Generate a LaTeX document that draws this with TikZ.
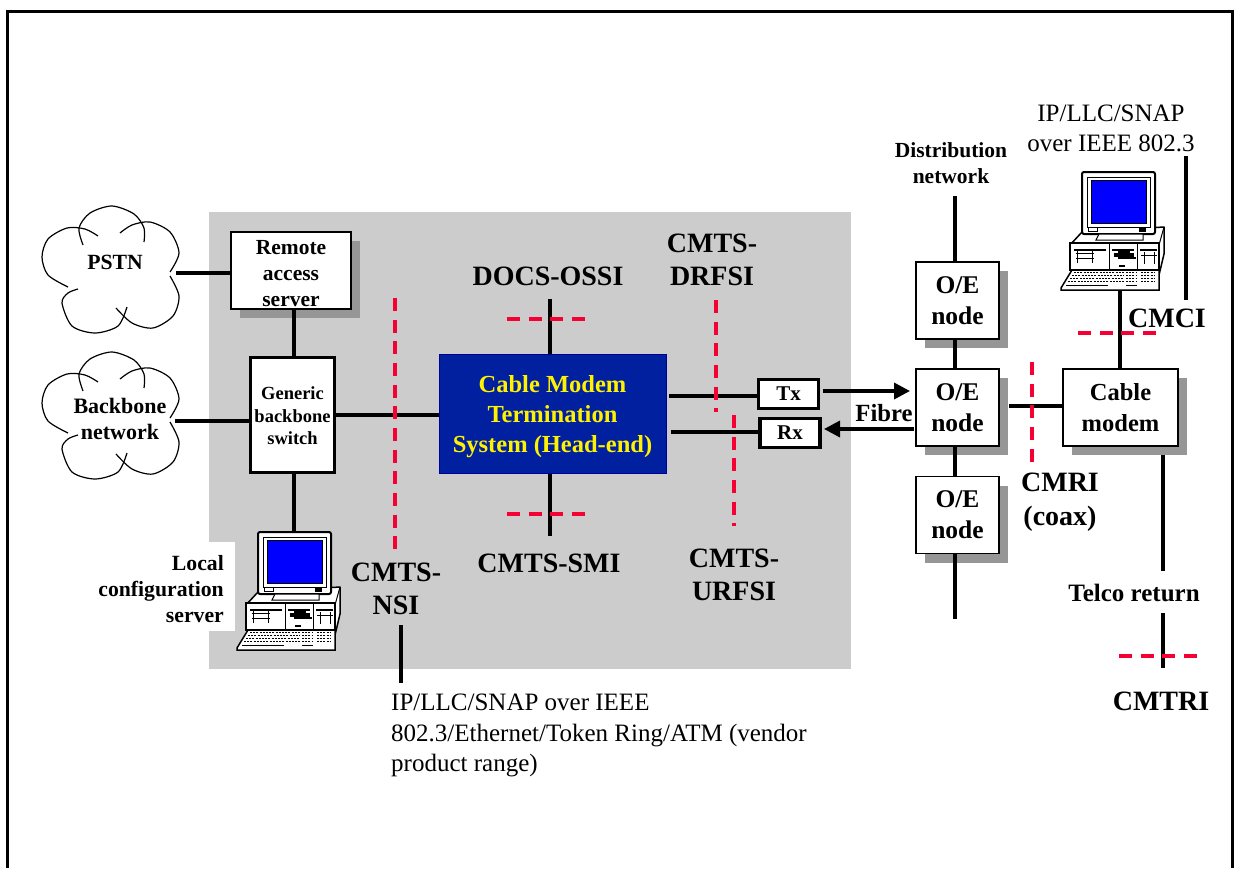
\documentclass[tikz,border=0pt]{standalone}
\usepackage{fontspec}
\setmainfont{Liberation Serif}
\usetikzlibrary{shadows}
\usetikzlibrary{arrows.meta}

\definecolor{panelgray}{RGB}{204,204,204}
\definecolor{shadowgray}{RGB}{150,150,150}
\definecolor{headblue}{RGB}{0,32,159}
\definecolor{ifred}{RGB}{245,0,50}
\newcommand{\lift}[1]{\rule{0pt}{#1pt}}

\tikzset{
  box/.style={draw=black,fill=white,line width=1.5pt,inner sep=0pt,align=center,
    font=\fontsize{21.5}{26}\selectfont\bfseries,
    drop shadow={shadow xshift=9pt,shadow yshift=-9pt,fill=shadowgray,opacity=1}},
  oebox/.style={box,font=\fontsize{25.5}{31}\selectfont\bfseries},
  heavybox/.style={draw=black,fill=white,line width=3.5pt,inner sep=0pt,align=center,
    font=\fontsize{21}{26}\selectfont\bfseries},
  wire/.style={line width=3.4pt},
  cut/.style={ifred,line width=4pt,dash pattern=on 13pt off 8.67pt},
  big/.style={align=center,inner sep=0pt,font=\fontsize{28}{33.5}\selectfont\bfseries},
  small/.style={align=center,inner sep=0pt,font=\fontsize{21.7}{26}\selectfont\bfseries},
  plain/.style={align=left,inner sep=0pt,font=\fontsize{25}{30.5}\selectfont}
}

\begin{document}
\begin{tikzpicture}[x=1pt,y=-1pt]
\useasboundingbox (0,0) rectangle (1234,868);

% frame
\draw[line width=3pt] (7,868) -- (7,11) -- (1232,11) -- (1232,868);

% head-end panel
\fill[panelgray] (209,212) rectangle (851,669);
\fill[white] (120,542) rectangle (235,631);

% clouds
\foreach \cy in {0,146} {
\begin{scope}[shift={(0,\cy)},line width=1.2pt]
\draw plot[smooth] coordinates {(83,245) (79,228) (90,213) (112,206) (134,214) (144,228) (144,242)};
\draw plot[smooth] coordinates {(120,233) (132,225) (150,222) (170,232) (179,253) (170,272)};
\draw plot[smooth] coordinates {(170,276) (179,296) (173,316) (153,328) (132,323) (116,308)};
\draw plot[smooth] coordinates {(127,307) (118,326) (95,333) (72,326) (62,303) (68,293) (78,289)};
\draw plot[smooth] coordinates {(68,287) (48,275) (42,257) (48,239) (67,228) (85,229) (98,236)};
\end{scope}
}
\path (115,262) node[small] (pstn) {PSTN};
\path (120,419) node[small,font=\fontsize{22}{26}\selectfont\bfseries] (backbone) {Backbone\\network};
\coordinate (pstnend) at (176,273);
\coordinate (backboneend) at (175,421);

% computers
\foreach \cx/\cy in {258/532,1082/172} {
\begin{scope}[shift={(\cx,\cy)}]
\draw[fill=white,line width=1.5pt,line join=round] (-12,73) -- (0,60) -- (82,55) -- (82,82) -- (77,103) -- (77,73) -- cycle;
\draw[line width=1pt] (77,73) -- (82,55);
\draw[fill=white,line width=1.5pt] (-12,71) rectangle (77,98);
\draw[line width=1.2pt] (-8,78) -- (24,78) (30,78) -- (52,78) (58,78) -- (75,78);
\draw[line width=1pt] (27,72) -- (27,97) (55,72) -- (55,97);
\draw[line width=.8pt] (-6,81) -- (12,81) (-6,86) -- (12,86) (-5,79) -- (-5,91) (10,79) -- (10,91);
\draw[line width=.8pt] (59,83) -- (75,83) (62,80) -- (62,92) (72,80) -- (72,92);
\fill (32,81) rectangle (52,85);
\fill (36,79) rectangle (48,87);
\fill (44,85) rectangle (54,87);
\fill (37,93) rectangle (43,95);
\draw[fill=white,line width=2pt,rounded corners=2pt] (0,0) rectangle (73,62);
\draw[line width=.8pt] (5,5) rectangle (68,55);
\fill[blue] (9,8) rectangle (64,51);
\draw[line width=1pt] (9,8) rectangle (64,51);
\draw[line width=.8pt] (6,55) rectangle (15,59);
\fill (57,55) rectangle (64,60);
\draw[fill=white,line width=1pt] (17,62) -- (14,68) -- (61,68) -- (61,62) -- cycle;
\draw[fill=white,line width=1.5pt] (-21,116) -- (-10,98) -- (77,98) -- (77,118) -- (-21,118) -- cycle;
\foreach \ky/\kx in {100.5/-8,103.5/-10,106.5/-12,109.5/-14} {
\draw[line width=1.6pt,dash pattern=on 2pt off 1.2pt] (\kx,\ky) -- (42,\ky);
\draw[line width=1.6pt,dash pattern=on 2pt off 1.2pt] (44,\ky) -- (55,\ky);
\draw[line width=1.6pt,dash pattern=on 2pt off 1.2pt] (59,\ky) -- (73,\ky);
}
\draw[line width=1pt] (-16,113) -- (26,113) (44,113) -- (55,113);
\end{scope}
}
\coordinate (localpc) at (294,532);
\coordinate (cmpc) at (1120,290);
\path (224,589) node[small,align=right,anchor=east] (local) {Local\\configuration\\server};

% head-end boxes
\node[box] (ras) at (291,270.5) [minimum width=120pt,minimum height=77pt] {\lift{21}Remote\\access\\server};
\node[heavybox,font=\fontsize{18.5}{22.5}\selectfont\bfseries] (switch) at (292.5,415) [minimum width=84pt,minimum height=115pt] {\lift{15}Generic\\backbone\\switch};
\node[draw=blue!60!black,line width=1pt,fill=headblue,text=yellow,inner sep=0pt,align=center,
  font=\fontsize{24.5}{30}\selectfont\bfseries,minimum width=227pt,minimum height=119pt] (cmts) at (552.5,413.5) {\lift{23}Cable Modem\\Termination\\System (Head-end)};
\node[heavybox] (tx) at (788.5,394) [minimum width=60pt,minimum height=29pt] {Tx};
\node[heavybox] (rx) at (790,433) [minimum width=60pt,minimum height=29pt] {Rx};

% nodes on the right
\foreach \n/\y in {oe1/300.5,oe2/407.5,oe3/515} {
\node[oebox] (\n) at (957.5,\y) [minimum width=83pt,minimum height=77pt] {O/E\\node};
}
\node[oebox,font=\fontsize{24.5}{31}\selectfont\bfseries] (modem) at (1120.5,407.5) [minimum width=115pt,minimum height=77pt] {Cable\\modem};

% labels
\path (548,276) node[big] (ossi) {DOCS-OSSI};
\path (712,260) node[big] (drfsi) {CMTS-\\DRFSI};
\path (549,563) node[big] (smi) {CMTS-SMI};
\path (734,575) node[big] (urfsi) {CMTS-\\URFSI};
\path (396,589) node[big] (nsi) {CMTS-\\NSI};
\path (1167,318) node[big] (cmci) {CMCI};
\path (1060,502) node[big] (cmri) {CMRI\\(coax)};
\path (1161,701) node[big] (cmtri) {CMTRI};
\path (884,413) node[small,font=\fontsize{24.7}{26}\selectfont\bfseries] (fibre) {Fibre};
\path (951,163) node[small,font=\fontsize{21.5}{26}\selectfont\bfseries] (dist) {Distribution\\network};
\path (1134,593) node[small,font=\fontsize{25}{26}\selectfont\bfseries] (telco) {Telco return};
\path (1111,128) node[plain,align=center,font=\fontsize{25}{30}\selectfont] (cmpcproto) {IP/LLC/SNAP\\over IEEE 802.3};
\path (391,694) node[plain,anchor=north west] (nsiproto) {IP/LLC/SNAP over IEEE\\802.3/Ethernet/Token Ring/ATM (vendor\\product range)};

% wires
\draw[wire] (pstnend) -- (pstnend -| ras.west);
\draw[wire] (backboneend) -- (backboneend -| switch.west);
\draw[wire] (ras.south -| localpc) -- (switch.north -| localpc);
\draw[wire] (switch.south -| localpc) -- (localpc);
\draw[wire] (switch.east) -- (cmts.west |- switch.east);
\coordinate (ossiend) at (550,299);
\coordinate (smiend) at (550,536);
\draw[wire] (ossiend) -- (ossiend |- cmts.north);
\draw[wire] (smiend |- cmts.south) -- (smiend);
\coordinate (txend) at (669,396);
\coordinate (rxend) at (671,432);
\draw[wire] (txend) -- (txend -| tx.west);
\draw[wire] (rxend) -- (rxend -| rx.west);
\coordinate (txout) at (823,391);
\coordinate (txin) at (910,391);
\coordinate (rxin) at (914,429);
\coordinate (rxout) at (824,429);
\draw[wire,-{Triangle[length=16pt,width=16pt]}] (txout) -- (txin);
\draw[wire,-{Triangle[length=16pt,width=16pt]}] (rxin) -- (rxout);
\coordinate (distend) at (955,196);
\coordinate (distlow) at (955,619);
\draw[wire] (distend) -- (distend |- oe1.north);
\draw[wire] (oe1.south -| distend) -- (oe2.north -| distend);
\draw[wire] (oe2.south -| distend) -- (oe3.north -| distend);
\draw[wire] (oe3.south -| distend) -- (distlow);
\coordinate (oelink) at (1009,406);
\draw[wire] (oelink) -- (oelink -| modem.west);
\draw[wire] (cmpc) -- (cmpc |- modem.north);
\coordinate (ctop) at (1186,156);
\coordinate (clow) at (1186,300);
\draw[wire] (ctop) -- (clow);
\coordinate (tup) at (1163,455);
\coordinate (tmid) at (1163,571);
\coordinate (tnext) at (1163,613);
\coordinate (tlow) at (1163,668);
\draw[wire] (tup) -- (tmid);
\draw[wire] (tnext) -- (tlow);
\coordinate (nsitop) at (401,625);
\coordinate (nsilow) at (401,683);
\draw[wire] (nsitop) -- (nsilow);

% interfaces
\foreach \xa/\xb/\y in {507/586/319,507/586/514,1078/1156/333,1119/1198/656} {
\draw[cut] (\xa,\y) -- (\xb,\y);
}
\foreach \x/\ya/\yb in {395/298/550,716/300/412,734/415/526,1032/362/462} {
\draw[cut] (\x,\ya) -- (\x,\yb);
}
\end{tikzpicture}
\end{document}
